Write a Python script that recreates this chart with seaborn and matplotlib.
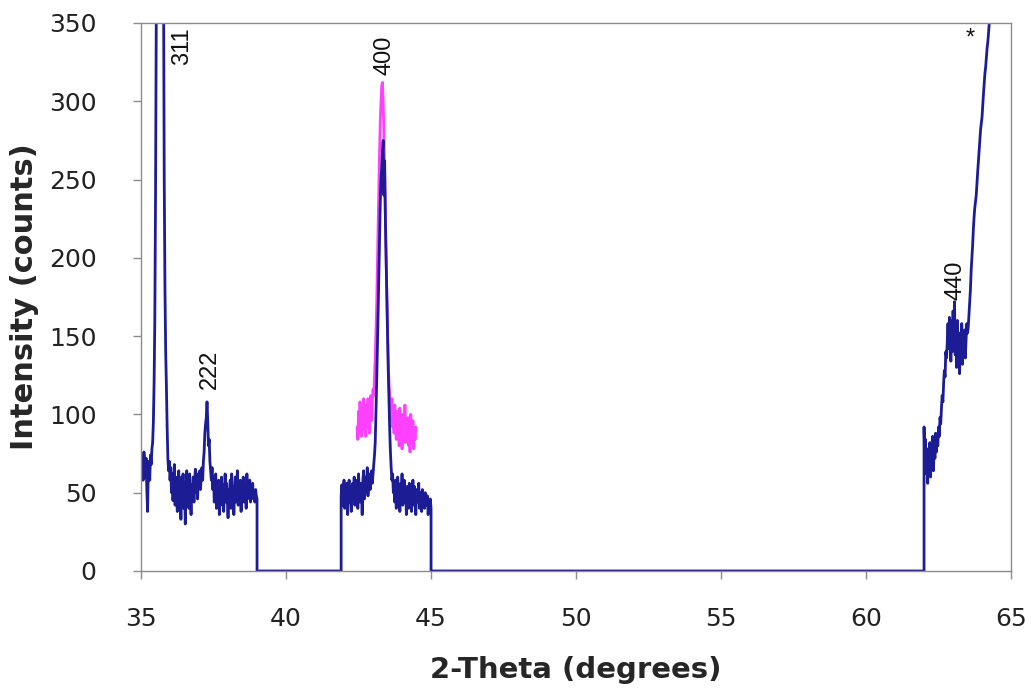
import numpy as np
import pandas as pd
import matplotlib
matplotlib.use("Agg")
import matplotlib.pyplot as plt
import seaborn as sns

# scan step of the diffractometer (degrees 2-theta)
STEP = 0.025

# navy pattern, first window (35.000 .. 39.000)
seg1_start = 35.00
seg1_counts = [62, 74, 66, 58, 76, 70, 60, 72, 52, 38, 64, 70, 58, 74, 68, 78,
               82, 95, 120, 160,
               240, 350, 480, 650,
               850, 1050, 1200, 1250,
               1150, 900, 620, 380,
               250, 180, 140, 118,
               92, 72, 64, 70,
               58, 66, 50, 62, 45, 56, 68, 42, 60, 52, 38, 58, 64, 46, 55, 33, 60, 48, 62, 40,
               56, 30, 52, 64, 44, 58, 40, 62, 50, 36, 55, 48, 60, 44, 58, 65, 50, 62, 46, 60,
               55, 64, 52, 60, 66, 58, 70, 76,
               88, 94, 98, 108, 96, 80, 84, 70,
               64, 58, 66, 52,
               60, 44, 56, 62, 40, 54, 48, 58, 36, 52, 46, 60, 42, 55, 38, 50, 62, 44, 56, 48,
               34, 52, 46, 58, 40, 62, 48, 54, 36, 50, 60, 44, 56, 64, 42, 52, 46, 58, 38, 54,
               48, 60, 44, 52, 56, 40, 62, 46, 54, 50, 58, 44, 52, 48, 56, 46, 50, 44, 52, 48,
               46]

# navy pattern, second window (41.900 .. 45.000)
seg2_start = 41.90
seg2_counts = [48, 55, 42, 52, 58, 40, 50, 46, 56, 36, 52, 58, 44, 54, 38, 50, 56, 46, 60, 42,
               54, 48, 58, 40, 62, 50, 44, 56, 52, 36, 58, 64, 46, 54, 60, 50, 66, 48, 56, 62,
               52, 58, 64, 56, 62, 68, 74, 82,
               100, 120, 142, 165, 190, 212, 236, 250,
               258, 268, 275, 240, 262, 225, 200, 178,
               150, 128, 108, 90, 76, 66, 58, 62,
               50, 56, 44, 58, 40, 52, 60, 46, 54, 38, 56, 48, 62, 42, 50, 58, 44, 52, 36, 54,
               48, 40, 56, 44, 52, 38, 50, 58, 42, 54, 46, 36, 52, 48, 44, 56, 40, 50, 46, 38,
               52, 44, 48, 40, 50, 46, 42, 48, 36, 44, 40, 46,
               40]

# navy pattern, third window (62.000 .. 64.400)
seg3_start = 62.00
seg3_counts = [92, 70, 84, 62, 78, 56, 74, 66, 82, 60, 76, 68, 86, 64, 80, 72,
               88, 76, 84, 80, 92, 86, 98, 94,
               104, 112, 108, 120, 128, 124, 140, 136,
               146, 158, 142, 162, 150, 134, 160, 140,
               166, 148, 172, 138, 156, 130, 160, 144,
               152, 126, 148, 140, 158, 132, 150, 142,
               154, 136, 148, 158, 152, 156, 164, 172,
               180, 192, 200, 208, 218, 226, 232, 236,
               240, 248, 255, 262, 268, 275, 282, 286,
               290, 298, 305, 312, 318, 322, 328, 334,
               338, 344, 350, 358, 366, 375, 384, 394,
               405]

# magenta pattern around the 400 reflection (42.450 .. 44.475)
mag_start = 42.45
mag_counts = [92, 84, 102, 88, 108, 96, 86, 104, 90, 110, 94, 100,
              86, 106, 92, 110, 98, 88, 104, 112, 96, 108,
              116, 112, 124, 136, 152, 170, 195, 220,
              245, 268, 288, 300, 310, 312, 298, 280,
              255, 228, 200, 176, 152, 134, 120, 112,
              104, 96, 110, 92, 100, 88, 106, 94,
              84, 102, 90, 98, 80, 104, 86, 96, 78, 100, 92, 84, 106, 82, 94, 88,
              98, 80, 92, 76, 100, 86, 82, 96, 78, 90, 84, 92]

# reflection labels
peak_labels = ["311", "222", "400", "440", "*"]
peak_x = [36.41, 37.38, 43.41, 63.07, 63.60]
peak_y = [347, 116, 317, 173, 340]
peak_va = ["top", "bottom", "bottom", "bottom", "center"]


def scan(start, counts):
    x = np.round(start + STEP * np.arange(len(counts)), 3)
    return list(x), list(counts)


def main():
    x1, y1 = scan(seg1_start, seg1_counts)
    x2, y2 = scan(seg2_start, seg2_counts)
    x3, y3 = scan(seg3_start, seg3_counts)
    xm, ym = scan(mag_start, mag_counts)

    # gaps between measured windows are plotted at zero counts
    nx = x1 + [x1[-1], x2[0]] + x2 + [x2[-1], x3[0]] + x3
    ny = y1 + [0, 0] + y2 + [0, 0] + y3
    navy = pd.DataFrame({"two_theta": nx, "counts": ny})
    pink = pd.DataFrame({"two_theta": xm, "counts": ym})

    sns.set_style("white")
    plt.rcParams["font.family"] = ["DejaVu Sans"]

    fig = plt.figure(figsize=(10.34, 6.88), dpi=100)
    ax = fig.add_axes([0.1364, 0.1701, 0.8414, 0.7965])

    sns.lineplot(data=pink, x="two_theta", y="counts", sort=False,
                 estimator=None, color="#ff40ff", linewidth=2.0, ax=ax)
    sns.lineplot(data=navy, x="two_theta", y="counts", sort=False,
                 estimator=None, color="#1c1c94", linewidth=2.0, ax=ax)

    ax.set_xlim(35, 65)
    ax.set_ylim(0, 350)
    ax.set_xticks(range(35, 66, 5))
    ax.set_yticks(range(0, 351, 50))

    for side in ["left", "right", "top", "bottom"]:
        ax.spines[side].set_color("#8c8c8c")
        ax.spines[side].set_linewidth(1.0)

    ax.tick_params(axis="y", direction="out", length=6, width=1,
                   color="#8c8c8c", pad=26, labelsize=18, labelcolor="#222222")
    ax.tick_params(axis="x", direction="out", length=6, width=1,
                   color="#8c8c8c", pad=20, labelsize=18, labelcolor="#222222")
    ax.tick_params(left=True, bottom=True)

    ax.set_xlabel("2-Theta (degrees)", fontsize=21, fontweight="bold", labelpad=18)
    ax.set_ylabel("Intensity (counts)", fontsize=22, fontweight="bold", labelpad=7)

    for lab, px, py, va in zip(peak_labels, peak_x, peak_y, peak_va):
        rot = 0 if lab == "*" else 90
        ax.text(px, py, lab, fontsize=17, rotation=rot, ha="center", va=va,
                color="#111111", family="Liberation Sans")

    fig.savefig("out.png", dpi=100, facecolor="white")


if __name__ == "__main__":
    main()
